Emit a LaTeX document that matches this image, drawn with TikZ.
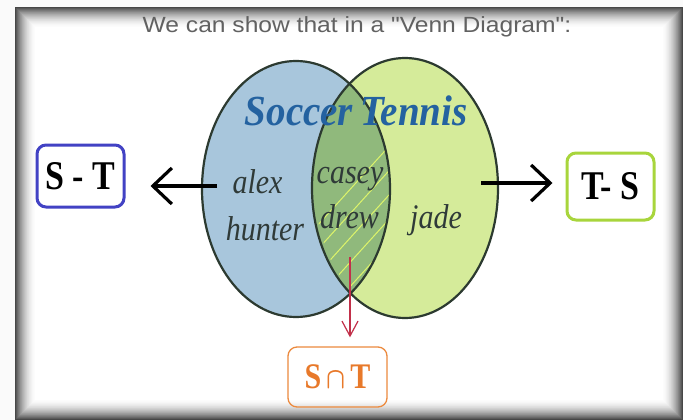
\documentclass[tikz,border=0pt]{standalone}
\usepackage{fontspec}
\setmainfont{Liberation Serif}
\newfontfamily\titlefont{Liberation Sans}
\usetikzlibrary{arrows.meta}

\definecolor{soccerfill}{HTML}{A8C6DC}
\definecolor{tennisfill}{HTML}{D5EB9A}
\definecolor{bothfill}{HTML}{90B97C}
\definecolor{hatchcol}{HTML}{DDF46A}
\definecolor{rimcol}{HTML}{2C3A30}
\definecolor{labelblue}{HTML}{2462A0}
\definecolor{namecol}{HTML}{2F3A38}
\definecolor{stblue}{HTML}{4242C4}
\definecolor{tsgreen}{HTML}{A8D53C}
\definecolor{capcol}{HTML}{EC8A3E}
\definecolor{captext}{HTML}{E8792A}
\definecolor{redarrow}{HTML}{C2304A}

\tikzset{
  setbox/.style={draw, rounded corners=9pt, inner sep=0pt, font=\fontsize{34}{34}\selectfont\bfseries},
  setname/.style={anchor=base, font=\fontsize{39}{39}\selectfont\bfseries\itshape, text=labelblue},
  member/.style={anchor=base, font=\fontsize{30}{30}\selectfont\itshape, text=namecol},
  bigarrow/.style={line width=3.2pt, -{Straight Barb[length=19pt,width=36pt,line width=3.2pt]}},
  rim/.style={draw=rimcol, line width=2.2pt}
}

\begin{document}
\begin{tikzpicture}[x=1pt,y=-1pt]
\useasboundingbox (0,0) rectangle (683,420);
\fill[black!2] (0,0) rectangle (683,420);

% framed panel with its inner shadow
\fill[white] (15,7) rectangle (683,420);
\foreach \i in {0,...,22}{
  \pgfmathsetmacro\shade{int(72*(1-\i/22)^2)}
  \draw[black!\shade, line width=1.1pt] (15.5+\i,7.5+\i) rectangle (682.5-\i,419.5-\i);
}

% title
\node[anchor=base, text=black!62, font=\titlefont\fontsize{20}{24}\selectfont] (title) at (357,33)
  {\scalebox{1.23}[1.1]{We can show that in a "Venn Diagram":}};

% the two sets
\fill[soccerfill] (296,189) ellipse [x radius=94, y radius=128];
\fill[tennisfill] (405,188) ellipse [x radius=93, y radius=130];
\begin{scope}
  \clip (296,189) ellipse [x radius=94, y radius=128];
  \fill[bothfill] (405,188) ellipse [x radius=93, y radius=130];
  \clip (405,188) ellipse [x radius=90, y radius=127];
  \foreach \k in {0,...,9}{
    \draw[hatchcol, line width=1pt] (250+22*\k,300) -- (250+22*\k+190,90);
  }
\end{scope}
\draw[rim] (296,189) ellipse [x radius=94, y radius=128];
\draw[rim] (405,188) ellipse [x radius=93, y radius=130];

% labels and members
\node[setname] (soccer) at (299,125) {\scalebox{1}[1.1]{Soccer}};
\node[setname] (tennis) at (414,125) {\scalebox{1}[1.1]{Tennis}};
\node[member] (alex) at (257.5,193) {\scalebox{1}[1.15]{alex}};
\node[member] (hunter) at (265,240) {\scalebox{1}[1.15]{hunter}};
\node[member] (casey) at (350,183) {\scalebox{1}[1.15]{casey}};
\node[member] (drew) at (349.5,228) {\scalebox{1}[1.15]{drew}};
\node[member] (jade) at (436,228) {\scalebox{1}[1.15]{jade}};

% result boxes
\node[setbox, draw=stblue, line width=3pt, minimum width=87pt, minimum height=62pt] (ST) at (80.5,176)
  {\scalebox{1}[1.2]{S - T}};
\node[setbox, draw=tsgreen, line width=3pt, minimum width=87pt, minimum height=67pt] (TS) at (610.5,186.5)
  {\scalebox{1}[1.2]{T- S}};
\node[setbox, draw=capcol, line width=1.3pt, text=captext, minimum width=99pt, minimum height=60pt,
      font=\fontsize{30}{30}\selectfont\bfseries] (SnT) at (337.5,377)
  {\scalebox{1}[1.2]{S\,\boldmath$\cap$\,T}};

% arrows out of the diagram
\coordinate (sout) at (217,186);
\coordinate (tout) at (481,183);
\coordinate (bout) at (350,257);
\draw[bigarrow, shorten >=25pt] (sout) -- (sout -| ST.east);
\draw[bigarrow, shorten >=13pt] (tout) -- (tout -| TS.west);
\draw[redarrow, line width=1.2pt, -{Straight Barb[length=15pt,width=16pt,line width=1.2pt]}, shorten >=9pt]
  (bout) -- (bout |- SnT.north);
\end{tikzpicture}
\end{document}
